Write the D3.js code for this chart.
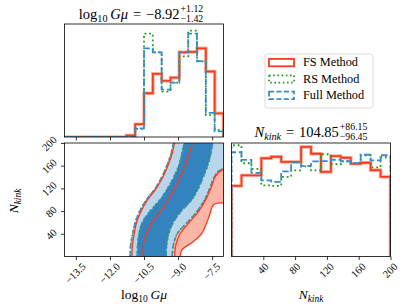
<!DOCTYPE html>
<html>
<head>
<meta charset="utf-8">
<script src="https://cdn.jsdelivr.net/npm/d3@7"></script>
<style>
body { margin: 0; background: #fff; }
text { font-family: "Liberation Serif", "DejaVu Serif", serif; fill: #000; }
</style>
</head>
<body>
<div id="chart"></div>
<script>
// ---- data ----
const gmuRange = [-14, -7];
const gmuBinCount = 18;
const nRange = [0, 200];
const nBinCount = 16;

const gmuTicks = [-13.5, -12, -10.5, -9, -7.5];
const nTicks = [40, 80, 120, 160, 200];

// marginal histograms of log10 G mu (counts, arbitrary units)
const fsGmu   = [0, 0, 0, 0, 0, 0, 0, 1.5, 12.7, 43.4, 62.7, 55.7, 59, 84, 84.5, 88, 65, 23.4];
const rsGmu   = [0, 0, 0, 0, 0, 0, 0, 0, 8, 102.5, 84, 45, 54, 80, 105.5, 75, 21.7, 7];
const fullGmu = [0, 0, 0, 0, 0, 0, 0, 0, 8.5, 88, 84, 47, 54, 84.5, 102.5, 75.3, 24, 5.5];

// marginal histograms of N_kink
const fsN   = [70.5, 81, 81, 98, 99.5, 94.4, 94.4, 109.4, 102.5, 84.4, 100.2, 98.5, 92.5, 93.5, 86.2, 79.5];
const rsN   = [111, 93, 87.5, 71, 70.5, 79.5, 86, 90, 86, 102, 92, 95, 93, 101, 89, 99];
const fullN = [104, 96.4, 83.5, 76, 74.4, 85, 93.8, 90.5, 94.8, 95.2, 96.5, 95, 93.2, 101.5, 95.8, 101];

// 2D contour boundaries: log10 G mu at given N_kink levels
const nLevels = [0, 20, 40, 60, 80, 100, 120, 140, 160, 180, 200];
const full2Left = [-11.11, -11.09, -11.00, -10.89, -10.69, -10.40, -10.01, -9.72, -9.50, -9.32, -9.21];
const full1Left = [-10.80, -10.78, -10.72, -10.58, -10.23, -9.79, -9.46, -9.19, -8.97, -8.84, -8.73];
const full1Right = [-9.52, -9.50, -9.41, -9.21, -8.86, -8.40, -8.11, -7.89, -7.70, -7.56, -7.48];
const fs2Left = [-11.03, -11.01, -10.93, -10.83, -10.63, -10.34, -9.96, -9.67, -9.45, -9.27, -9.16];
const fs1Left = [-10.54, -10.53, -10.40, -10.14, -9.76, -9.43, -9.15, -8.91, -8.69, -8.51, -8.38];

const full2RightN = [0, 20, 40, 60, 80, 100, 120, 140, 150, 155];
const full2Right  = [-9.26, -9.21, -9.04, -8.60, -8.16, -7.83, -7.61, -7.41, -7.23, -7.00];
const fs1RightN = [0, 20, 40, 60, 80, 100, 120, 140, 150, 153];
const fs1Right  = [-9.15, -9.10, -8.91, -8.51, -8.09, -7.78, -7.56, -7.37, -7.17, -7.00];
const fs2RightN = [0, 11.8, 26.5, 41.3, 67.7, 91.2, 94.2, 94.2];
const fs2Right  = [-8.91, -8.83, -8.32, -7.95, -7.66, -7.44, -7.22, -7.00];

const methods = ["FS Method", "RS Method", "Full Method"];

// ---- styles ----
const red = "#f83b1d", green = "#229a22", blue = "#3a8cc6";
const darkFill = "#3283be", lightFill = "#b9d6ea", salmon = "#fcb5a6";

const W = 407, H = 308;
const svg = d3.select("#chart").append("svg")
    .attr("width", W)
    .attr("height", H);

const xG = d3.scaleLinear().domain(gmuRange).range([64.5, 223.5]);
const xN = d3.scaleLinear().domain(nRange).range([231.5, 390.5]);
const yTop = d3.scaleLinear()
    .domain([0, d3.max([...fsGmu, ...rsGmu, ...fullGmu]) * 1.063])
    .range([137, 24]);
const yN = d3.scaleLinear().domain(nRange).range([256.5, 143]);
const yBR = d3.scaleLinear()
    .domain([0, d3.max([...fsN, ...rsN, ...fullN]) * 1.02])
    .range([256.5, 143]);

const gmuEdges = d3.range(gmuBinCount + 1).map(i => gmuRange[0] + i * (gmuRange[1] - gmuRange[0]) / gmuBinCount);
const nEdges = d3.range(nBinCount + 1).map(i => nRange[0] + i * (nRange[1] - nRange[0]) / nBinCount);

// clip paths for the three panels
const defs = svg.append("defs");
function clip(id, x0, y0, x1, y1) {
    defs.append("clipPath").attr("id", id)
        .append("rect").attr("x", x0).attr("y", y0).attr("width", x1 - x0).attr("height", y1 - y0);
    return "url(#" + id + ")";
}
const clipTop = clip("ct", 64.5, 24, 223.5, 137);
const clipBL = clip("cbl", 64.5, 143, 223.5, 256.5);
const clipBR = clip("cbr", 231.5, 143, 390.5, 256.5);

// step outline of a histogram
function stepPoints(edges, vals) {
    const pts = [[edges[0], 0]];
    vals.forEach((v, i) => { pts.push([edges[i], v]); pts.push([edges[i + 1], v]); });
    pts.push([edges[edges.length - 1], 0]);
    return pts;
}

function drawHist(g, x, y, edges, vals, style) {
    const line = d3.line().x(d => x(d[0])).y(d => y(d[1]));
    const pts = stepPoints(edges, vals);
    if (style === "fs") {
        g.append("path").attr("d", line(pts)).attr("fill", "none")
            .attr("stroke", "#ffb4a6").attr("stroke-width", 3.6);
        g.append("path").attr("d", line(pts)).attr("fill", "none")
            .attr("stroke", red).attr("stroke-width", 1.8);
    } else if (style === "rs") {
        g.append("path").attr("d", line(pts)).attr("fill", "none")
            .attr("stroke", green).attr("stroke-width", 1.8)
            .attr("stroke-dasharray", "1.8,2.9");
    } else {
        g.append("path").attr("d", line(pts)).attr("fill", "none")
            .attr("stroke", blue).attr("stroke-width", 1.8)
            .attr("stroke-dasharray", "6.5,2.8");
    }
}

// ---- top histogram ----
const gTop = svg.append("g").attr("clip-path", clipTop);
drawHist(gTop, xG, yTop, gmuEdges, fsGmu, "fs");
drawHist(gTop, xG, yTop, gmuEdges, rsGmu, "rs");
drawHist(gTop, xG, yTop, gmuEdges, fullGmu, "full");

// ---- bottom right histogram ----
const gBR = svg.append("g").attr("clip-path", clipBR);
drawHist(gBR, xN, yBR, nEdges, fsN, "fs");
drawHist(gBR, xN, yBR, nEdges, rsN, "rs");
drawHist(gBR, xN, yBR, nEdges, fullN, "full");

// ---- 2D contours ----
const gBL = svg.append("g").attr("clip-path", clipBL);
const zip = (ns, gs) => ns.map((n, i) => [gs[i], n]);
const curve = d3.line().x(d => xG(d[0])).y(d => yN(d[1])).curve(d3.curveCatmullRom.alpha(0.5));

const b2L = zip(nLevels, full2Left);
const b1L = zip(nLevels, full1Left);
const b1R = zip(nLevels, full1Right);
const b2R = zip(full2RightN, full2Right);
const f2L = zip(nLevels, fs2Left);
const f1L = zip(nLevels, fs1Left);
const f1R = zip(fs1RightN, fs1Right);
const f2R = zip(fs2RightN, fs2Right);

const xOut = xG(gmuRange[1]) + 3;
const yOutTop = yN(nRange[1]) - 3;

// salmon: FS outer region right of the Full band
gBL.append("path")
    .attr("d", curve(b2R) +
        "L" + xOut + "," + yN(b2R[b2R.length - 1][1]) +
        "L" + xOut + "," + yN(f2R[f2R.length - 1][1]) +
        "L" + curve(f2R.slice().reverse()).slice(1) + "Z")
    .attr("fill", salmon);

// light blue: Full 2 sigma
gBL.append("path")
    .attr("d", curve(b2L) +
        "L" + xG(b2L[b2L.length - 1][0]) + "," + yOutTop +
        "L" + xOut + "," + yOutTop +
        "L" + xOut + "," + yN(b2R[b2R.length - 1][1]) +
        "L" + curve(b2R.slice().reverse()).slice(1) + "Z")
    .attr("fill", lightFill);

// dark blue: Full 1 sigma
gBL.append("path")
    .attr("d", curve(b1L) + "L" + curve(b1R.slice().reverse()).slice(1) + "Z")
    .attr("fill", darkFill);

// contour lines
[b2L, b1L, b1R, b2R].forEach(b => {
    gBL.append("path").attr("d", curve(b)).attr("fill", "none")
        .attr("stroke", green).attr("stroke-width", 1.5).attr("stroke-dasharray", "1.5,2.6");
});
[b2L, b1L, b1R, b2R].forEach(b => {
    gBL.append("path").attr("d", curve(b)).attr("fill", "none")
        .attr("stroke", blue).attr("stroke-width", 1.4).attr("stroke-dasharray", "5,2.5");
});
[f2L, f1L, f1R, f2R].forEach(b => {
    gBL.append("path").attr("d", curve(b)).attr("fill", "none")
        .attr("stroke", red).attr("stroke-width", 1.3);
});
gBL.append("path")
    .attr("d", "M" + xG(fs2Right[fs2Right.length - 1]) + "," + yN(94.2) + "L" + xOut + "," + yN(94.2))
    .attr("stroke", red).attr("stroke-width", 1.3);

// ---- frames ----
[[64.5, 24, 223.5, 137], [64.5, 143, 223.5, 256.5], [231.5, 143, 390.5, 256.5]].forEach(r => {
    svg.append("rect").attr("x", r[0]).attr("y", r[1])
        .attr("width", r[2] - r[0]).attr("height", r[3] - r[1])
        .attr("fill", "none").attr("stroke", "#000").attr("stroke-width", 0.8);
});

// ---- axes ----
const tickFs = 10.5;
function styleAxis(g) {
    g.select(".domain").remove();
    g.selectAll(".tick line").attr("stroke", "#000").attr("stroke-width", 0.8);
    g.selectAll("text").attr("font-size", tickFs)
        .style("font-family", '"Liberation Serif", serif');
}
function rotateX(g) {
    g.selectAll(".tick text")
        .attr("y", 0).attr("dy", "0.35em").attr("x", 0)
        .attr("text-anchor", "middle")
        .attr("transform", function () {
            const w = this.getComputedTextLength();
            const half = (w + tickFs) * 0.7071 / 2;
            return "translate(-1," + (4.5 + half) + ") rotate(-45)";
        });
}
function rotateY(g) {
    g.selectAll(".tick text")
        .attr("y", 0).attr("dy", "0.35em").attr("x", 0)
        .attr("text-anchor", "middle")
        .attr("transform", function () {
            const w = this.getComputedTextLength();
            const half = (w + tickFs) * 0.7071 / 2;
            return "translate(" + (-6 - half) + ",0) rotate(-45)";
        });
}
const fmtG = d3.format(".1f");

svg.append("g").attr("transform", "translate(0,137)")
    .call(d3.axisBottom(xG).tickValues(gmuTicks).tickSize(3.5).tickFormat(""))
    .call(styleAxis);

svg.append("g").attr("transform", "translate(0,256.5)")
    .call(d3.axisBottom(xG).tickValues(gmuTicks).tickSize(3.5).tickFormat(fmtG))
    .call(styleAxis).call(rotateX);

svg.append("g").attr("transform", "translate(64.5,0)")
    .call(d3.axisLeft(yN).tickValues(nTicks).tickSize(3.5).tickFormat(d3.format("d")))
    .call(styleAxis).call(rotateY);

svg.append("g").attr("transform", "translate(0,256.5)")
    .call(d3.axisBottom(xN).tickValues(nTicks).tickSize(3.5).tickFormat(d3.format("d")))
    .call(styleAxis).call(rotateX);

// ---- labels ----
const labFs = 13.5;
function gmuLabel(t, fs) {
    t.append("tspan").text("log");
    t.append("tspan").attr("font-size", fs * 0.7).attr("dy", fs * 0.22).text("10");
    t.append("tspan").attr("dy", -fs * 0.22).attr("font-style", "italic").text("\u2009G\u03bc");
}
function nkinkLabel(t, fs) {
    t.append("tspan").attr("font-style", "italic").text("N");
    t.append("tspan").attr("font-style", "italic").attr("font-size", fs * 0.7)
        .attr("dy", fs * 0.22).text("kink");
}

const xl = svg.append("text").attr("x", 144).attr("y", 299)
    .attr("text-anchor", "middle").attr("font-size", labFs);
gmuLabel(xl, labFs);

const xl2 = svg.append("text").attr("x", 311).attr("y", 299)
    .attr("text-anchor", "middle").attr("font-size", labFs);
nkinkLabel(xl2, labFs);

const yl = svg.append("text").attr("transform", "translate(18,201) rotate(-90)")
    .attr("text-anchor", "middle").attr("font-size", labFs);
nkinkLabel(yl, labFs);

// ---- titles with stacked errors ----
function title(cx, baseY, fs, build, sup, sub) {
    const g = svg.append("g");
    const t = g.append("text").attr("y", baseY).attr("font-size", fs);
    build(t, fs);
    const wMain = t.node().getComputedTextLength();
    const sp = g.append("text").attr("y", baseY - 7).attr("font-size", 9.8).text(sup);
    const sb = g.append("text").attr("y", baseY + 3).attr("font-size", 9.8).text(sub);
    const wS = Math.max(sp.node().getComputedTextLength(), sb.node().getComputedTextLength());
    const x0 = cx - (wMain + wS + 1) / 2;
    t.attr("x", x0);
    sp.attr("x", x0 + wMain + 1);
    sb.attr("x", x0 + wMain + 1);
}
const titleFs = 14.5;
title(141, 19, titleFs, (t, fs) => {
    gmuLabel(t, fs);
    t.append("tspan").text("\u2004=\u2004\u22128.92");
}, "+1.12", "\u22121.42");

title(311, 136.5, titleFs, (t, fs) => {
    nkinkLabel(t, fs);
    t.append("tspan").attr("dy", -fs * 0.22).text("\u2004=\u2004104.85");
}, "+86.15", "\u221296.45");

// ---- legend ----
const leg = svg.append("g");
leg.append("rect").attr("x", 265).attr("y", 54).attr("width", 108).attr("height", 54)
    .attr("rx", 2.5).attr("fill", "#fff").attr("stroke", "#d0d0d0").attr("stroke-width", 0.8);
const legStyles = [
    { stroke: red, dash: null },
    { stroke: green, dash: "1.6,2.6" },
    { stroke: blue, dash: "5,2.5" }
];
methods.forEach((m, i) => {
    const cy = 62.5 + i * 16.4;
    leg.append("rect").attr("x", 269).attr("y", cy - 3.6).attr("width", 25).attr("height", 7.4)
        .attr("fill", "none").attr("stroke", legStyles[i].stroke).attr("stroke-width", 1.8)
        .attr("stroke-dasharray", legStyles[i].dash);
    leg.append("text").attr("x", 303).attr("y", cy + 3.8).attr("font-size", 12.3).text(m);
});
</script>
</body>
</html>
